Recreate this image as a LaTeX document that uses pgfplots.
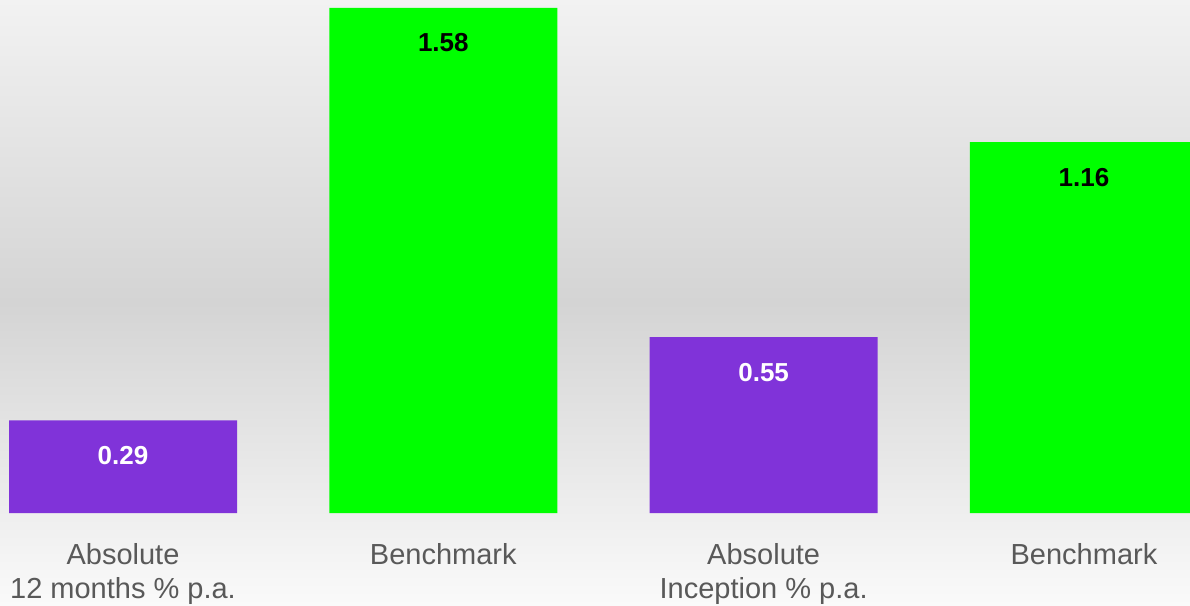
\documentclass[border=0pt]{standalone}
\usepackage{fontspec}
\setmainfont{Liberation Sans}
\usepackage{pgfplots}
\pgfplotsset{compat=1.18}
\definecolor{purp}{RGB}{128,51,217}
\definecolor{grn}{RGB}{0,255,0}
\definecolor{lbl}{RGB}{89,89,89}
\definecolor{bgtop}{RGB}{242,242,242}
\definecolor{bgmid}{RGB}{212,212,212}
\definecolor{bgbot}{RGB}{250,250,250}
\begin{document}
\begin{tikzpicture}
% background gradient
\shade[top color=bgtop, bottom color=bgbot, middle color=bgmid]
  (0,-46.25pt) rectangle (595pt,256.5pt);
\begin{axis}[
    at={(0,0)}, anchor=south west,
    scale only axis,
    width=595pt, height=256.5pt,
    xmin=-0.384, xmax=3.331,
    ymin=0, ymax=1.605,
    axis line style={draw=none},
    ytick=\empty,
    xtick={0,1,2,3},
    xticklabels={{Absolute\\12 months \% p.a.},Benchmark,{Absolute\\Inception \% p.a.},Benchmark},
    major tick length=0pt,
    xticklabel style={align=center, anchor=north, inner sep=0pt, yshift=-15pt,
        font=\fontsize{14.5}{17}\selectfont, text=lbl},
    ybar, bar width=0.7118, bar shift=0pt,
    clip=true,
    /pgf/number format/assume math mode=true,
    nodes near coords,
    nodes near coords align={center},
    every node near coord/.append style={anchor=center, yshift=-17.5pt,
        font=\fontsize{13}{16}\selectfont\bfseries,
        /pgf/number format/fixed, /pgf/number format/precision=2,
        /pgf/number format/fixed zerofill},
]
\addplot[draw=none, fill=purp, nodes near coords style={text=white}]
    coordinates {(0,0.29) (2,0.55)};
\addplot[draw=none, fill=grn, nodes near coords style={text=black}]
    coordinates {(1,1.58) (3,1.16)};
\end{axis}
\pgfresetboundingbox
\useasboundingbox (0,-46.25pt) rectangle (595pt,256.5pt);
\end{tikzpicture}
\end{document}
